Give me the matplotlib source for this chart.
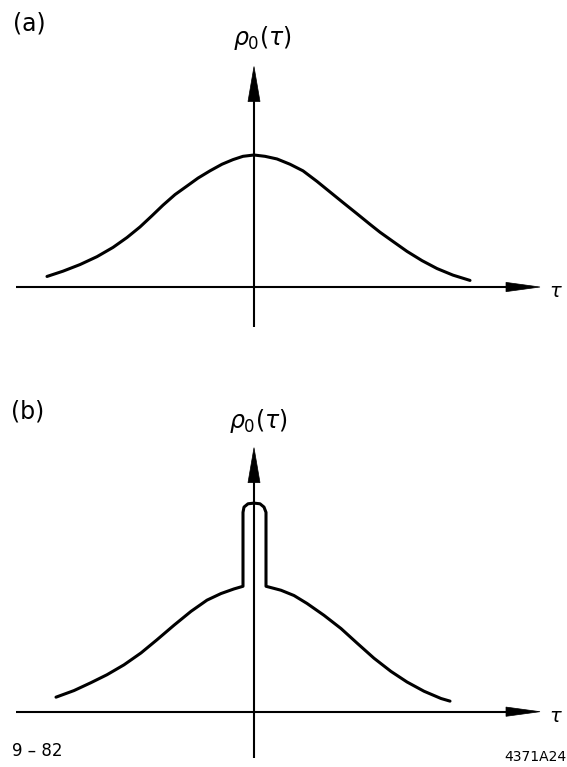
import numpy as np
import matplotlib.pyplot as plt

tau_a = [-2.07, -1.91, -1.74, -1.57, -1.41, -1.27, -1.14, -1.02, -0.91, -0.79,
         -0.67, -0.56, -0.44, -0.32, -0.21, -0.11, 0.00, 0.11, 0.23, 0.36,
         0.49, 0.63, 0.76, 0.89, 1.03, 1.16, 1.26, 1.39, 1.53, 1.68,
         1.83, 1.99, 2.16]
rho_a = [0.08, 0.12, 0.17, 0.23, 0.30, 0.375, 0.455, 0.54, 0.62, 0.70,
         0.765, 0.825, 0.88, 0.93, 0.965, 0.99, 1.00, 0.99, 0.97, 0.93,
         0.88, 0.80, 0.72, 0.64, 0.555, 0.475, 0.415, 0.345, 0.27, 0.20,
         0.14, 0.09, 0.05]

# (b) broad part plus narrow spike at tau = 0
tau_b = [-1.98, -1.80, -1.63, -1.47, -1.30, -1.13, -0.97, -0.80, -0.63, -0.47,
         -0.33, -0.20, -0.11,
         -0.11, -0.10, -0.06, 0.00, 0.06, 0.10, 0.12,
         0.12, 0.27, 0.40, 0.53, 0.70, 0.87, 1.03, 1.20, 1.37, 1.53,
         1.70, 1.87, 1.96]
rho_b = [0.11, 0.16, 0.22, 0.28, 0.355, 0.445, 0.545, 0.655, 0.76, 0.845,
         0.895, 0.93, 0.95,
         1.51, 1.55, 1.575, 1.58, 1.575, 1.55, 1.51,
         0.95, 0.92, 0.88, 0.82, 0.73, 0.63, 0.52, 0.405, 0.305, 0.225,
         0.155, 0.10, 0.08]

W, H = 567, 767
fig = plt.figure(figsize=(W / 100, H / 100), dpi=100)

# one frameless axes per panel, same scale: 100 px per tau unit, 132 px per rho unit
ax_a = fig.add_axes([0, 1 - 383 / H, 1, 383 / H])
ax_a.set_xlim(-2.54, 3.13)
ax_a.set_ylim(-0.727, 2.174)
ax_b = fig.add_axes([0, 0, 1, 384 / H])
ax_b.set_xlim(-2.54, 3.13)
ax_b.set_ylim(-0.419, 2.49)


def draw_axes(ax, y_bottom, y_tip):
    # vertical axis with filled arrowhead
    ax.plot([0, 0], [y_bottom, y_tip - 0.2], color='black', lw=1.5,
            solid_capstyle='butt')
    ax.fill([-0.06, 0.0, 0.06], [y_tip - 0.265, y_tip, y_tip - 0.265],
            color='black', lw=0.5)
    # horizontal axis with filled arrowhead
    ax.plot([-2.38, 2.6], [0, 0], color='black', lw=1.5, solid_capstyle='butt')
    ax.fill([2.52, 2.86, 2.52], [-0.035, 0.0, 0.035], color='black', lw=0.5)
    ax.axis('off')


draw_axes(ax_a, -0.30, 1.67)
ax_a.plot(tau_a, rho_a, color='black', lw=2.2, solid_joinstyle='round',
          solid_capstyle='round')

draw_axes(ax_b, -0.35, 2.0)
ax_b.plot(tau_b, rho_b, color='black', lw=2.2, solid_joinstyle='round',
          solid_capstyle='round')


def px_text(x, y, s, **kw):
    fig.text(x / W, 1 - y / H, s, color='black', **kw)


px_text(13, 23, '(a)', fontsize=17, ha='left', va='center')
px_text(262, 38, r'$\rho_0(\tau)$', fontsize=17, ha='center', va='center')
px_text(549, 292, r'$\tau$', fontsize=14, ha='left', va='center')

px_text(11, 411, '(b)', fontsize=17, ha='left', va='center')
px_text(258, 421, r'$\rho_0(\tau)$', fontsize=17, ha='center', va='center')
px_text(549, 716, r'$\tau$', fontsize=14, ha='left', va='center')

px_text(37, 751, '9 – 82', fontsize=12, ha='center', va='center')
px_text(566, 757, '4371A24', fontsize=10, ha='right', va='center')

fig.savefig('out.png', dpi=100)
